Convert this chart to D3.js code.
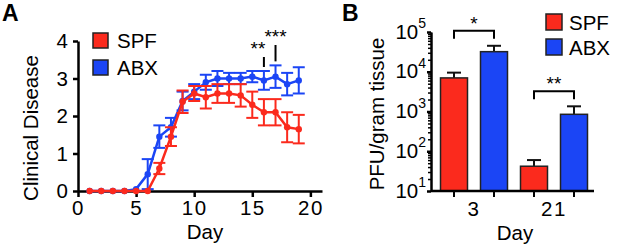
<!DOCTYPE html>
<html>
<head>
<meta charset="utf-8">
<script src="https://cdn.jsdelivr.net/npm/d3@7"></script>
<style>
  body { margin: 0; background: #fff; }
  svg { font-family: "Liberation Sans", Arial, sans-serif; }
</style>
</head>
<body>
<svg id="chart" width="617" height="248"></svg>
<script>
// panel A: clinical disease over time
const days = [1, 2, 3, 4, 5, 6, 7, 8, 9, 10, 11, 12, 13, 14, 15, 16, 17, 18, 19];
const spfScore = [0, 0, 0, 0, 0, 0, 0.6, 1.45, 2.38, 2.6, 2.5, 2.6, 2.6, 2.55, 2.3, 2.1, 2.1, 1.7, 1.65];
const spfErr = [0, 0, 0, 0, 0, 0, 0.15, 0.25, 0.3, 0.2, 0.3, 0.25, 0.25, 0.3, 0.35, 0.35, 0.35, 0.4, 0.38];
const abxScore = [0, 0, 0, 0, 0.05, 0.45, 1.45, 1.7, 2.4, 2.65, 2.9, 3.0, 3.0, 3.0, 3.05, 2.95, 3.05, 2.85, 2.95];
const abxErr = [0, 0, 0, 0, 0.05, 0.4, 0.3, 0.25, 0.25, 0.2, 0.2, 0.2, 0.15, 0.15, 0.15, 0.25, 0.3, 0.3, 0.35];
const sigA = [{ day: 16, label: '**' }, { day: 17, label: '***' }];

// panel B: viral titre
const titreDays = ['3', '21'];
const groups = ['SPF', 'ABX'];
const titre = { SPF: [7000, 42], ABX: [32000, 850] };
const titreErr = { SPF: [9500, 60], ABX: [45000, 1350] };
const sigB = [{ day: '3', label: '*' }, { day: '21', label: '**' }];

const colors = { SPF: '#fb2a1d', ABX: '#1b45f5' };
const fs = 20.5;

const svg = d3.select('#chart');

// ---------- panel A ----------
const x = d3.scaleLinear().domain([0, 21]).range([78, 322]);
const y = d3.scaleLinear().domain([0, 4]).range([191, 41]);

const gA = svg.append('g');

const xAxisA = gA.append('g')
	.attr('transform', `translate(0, ${y(0)})`)
	.call(d3.axisBottom(x).tickValues([0, 5, 10, 15, 20]).tickSize(6).tickPadding(3).tickSizeOuter(0));
const yAxisA = gA.append('g')
	.attr('transform', `translate(${x(0)}, 0)`)
	.call(d3.axisLeft(y).ticks(4).tickSize(5).tickPadding(5).tickSizeOuter(0));

[xAxisA, yAxisA].forEach(a => {
	a.selectAll('.domain').attr('stroke', '#000').attr('stroke-width', 2.5);
	a.selectAll('.tick line').attr('stroke', '#000').attr('stroke-width', 2.5);
	a.selectAll('text').attr('font-size', fs).attr('fill', '#000').attr('font-family', null);
});
xAxisA.selectAll('text').attr('letter-spacing', 1.5);

gA.append('text')
	.attr('x', 205).attr('y', 239)
	.attr('text-anchor', 'middle')
	.attr('font-size', fs)
	.text('Day');

gA.append('text')
	.attr('transform', `translate(38, 128) rotate(-90)`)
	.attr('text-anchor', 'middle')
	.attr('font-size', fs)
	.text('Clinical Disease');

const line = d3.line()
	.x((d, i) => x(days[i]))
	.y(d => y(d));

const series = [
	{ key: 'ABX', vals: abxScore, err: abxErr },
	{ key: 'SPF', vals: spfScore, err: spfErr }
];

series.forEach(s => {
	const g = gA.append('g');
	const c = colors[s.key];
	g.selectAll('g.err')
		.data(s.vals.map((v, i) => ({ day: days[i], v: v, e: s.err[i] })).filter(d => d.e > 0.06))
		.enter().append('g')
		.each(function(d) {
			const e = d3.select(this);
			e.append('line')
				.attr('x1', x(d.day)).attr('x2', x(d.day))
				.attr('y1', y(d.v - d.e)).attr('y2', y(d.v + d.e))
				.attr('stroke', c).attr('stroke-width', 2);
			[d.v - d.e, d.v + d.e].forEach(yy => {
				e.append('line')
					.attr('x1', x(d.day) - 6).attr('x2', x(d.day) + 6)
					.attr('y1', y(yy)).attr('y2', y(yy))
					.attr('stroke', c).attr('stroke-width', 2);
			});
		});
	g.append('path')
		.attr('d', line(s.vals))
		.attr('fill', 'none')
		.attr('stroke', c)
		.attr('stroke-width', 2.5);
	g.selectAll('circle')
		.data(s.vals)
		.enter().append('circle')
		.attr('cx', (d, i) => x(days[i]))
		.attr('cy', d => y(d))
		.attr('r', 3.2)
		.attr('fill', c);
});

// significance marks above ABX
sigA.forEach((s, k) => {
	const i = days.indexOf(s.day);
	const top = y(abxScore[i] + abxErr[i]);
	const lineTop = k === 0 ? 57 : 45;
	gA.append('line')
		.attr('x1', x(s.day)).attr('x2', x(s.day))
		.attr('y1', lineTop).attr('y2', top - 4)
		.attr('stroke', '#000').attr('stroke-width', 2);
	gA.append('text')
		.attr('x', x(s.day) + (k === 0 ? -6 : 0))
		.attr('y', lineTop + 6)
		.attr('dy', -8)
		.attr('text-anchor', 'middle')
		.attr('font-size', 19)
		.text(s.label);
});

// legend A
groups.forEach((gname, i) => {
	gA.append('rect')
		.attr('x', 93).attr('y', 33 + i * 27)
		.attr('width', 15).attr('height', 15)
		.attr('fill', colors[gname])
		.attr('stroke', '#222').attr('stroke-width', 1.5);
	gA.append('text')
		.attr('x', 117).attr('y', 48 + i * 27)
		.attr('font-size', fs)
		.text(gname);
});

svg.append('text')
	.attr('x', 2).attr('y', 21)
	.attr('font-size', 23).attr('font-weight', 'bold')
	.text('A');

// ---------- panel B ----------
const gB = svg.append('g');
const yB = d3.scaleLog().domain([10, 1e5]).range([191, 32]);
const x0 = d3.scaleBand().domain(titreDays).range([434, 594]);
const x1 = d3.scaleBand().domain(groups).range([0, x0.bandwidth()])
	.paddingInner(0.325).paddingOuter(0.1625);

const axisLeftX = 431;

// minor ticks
const minor = [];
[10, 100, 1000, 10000].forEach(base => {
	[2, 3, 4, 5, 6, 7, 8, 9].forEach(m => minor.push(base * m));
});
gB.append('g')
	.attr('transform', `translate(${axisLeftX}, 0)`)
	.call(d3.axisLeft(yB).tickValues(minor).tickSize(3).tickFormat('').tickSizeOuter(0))
	.call(a => a.selectAll('.tick line').attr('stroke', '#000').attr('stroke-width', 1.5));

const yAxisB = gB.append('g')
	.attr('transform', `translate(${axisLeftX}, 0)`)
	.call(d3.axisLeft(yB).tickValues([10, 100, 1000, 10000, 100000]).tickSize(4).tickPadding(1)
		.tickFormat(d => '').tickSizeOuter(0));
yAxisB.selectAll('.domain').attr('stroke', '#000').attr('stroke-width', 2.5);
yAxisB.selectAll('.tick line').attr('stroke', '#000').attr('stroke-width', 2.5);
yAxisB.selectAll('.tick text')
	.attr('font-size', fs).attr('fill', '#000').attr('font-family', null)
	.attr('dy', '0.3em')
	.each(function(d) {
		const t = d3.select(this);
		t.append('tspan').text('10');
		t.append('tspan')
			.attr('font-size', 14)
			.attr('dy', '-0.75em')
			.text(Math.round(Math.log10(d)));
	});

// bars
const bars = [];
titreDays.forEach((day, di) => {
	groups.forEach(gname => {
		bars.push({ day: day, group: gname, v: titre[gname][di], e: titreErr[gname][di] });
	});
});

const barG = gB.selectAll('g.bar')
	.data(bars)
	.enter().append('g');

barG.append('line')
	.attr('x1', d => x0(d.day) + x1(d.group) + x1.bandwidth() / 2)
	.attr('x2', d => x0(d.day) + x1(d.group) + x1.bandwidth() / 2)
	.attr('y1', d => yB(d.v)).attr('y2', d => yB(d.e))
	.attr('stroke', '#111').attr('stroke-width', 2);
barG.append('line')
	.attr('x1', d => x0(d.day) + x1(d.group) + x1.bandwidth() / 2 - 7)
	.attr('x2', d => x0(d.day) + x1(d.group) + x1.bandwidth() / 2 + 7)
	.attr('y1', d => yB(d.e)).attr('y2', d => yB(d.e))
	.attr('stroke', '#111').attr('stroke-width', 2);
barG.append('rect')
	.attr('x', d => x0(d.day) + x1(d.group))
	.attr('width', x1.bandwidth())
	.attr('y', d => yB(d.v))
	.attr('height', d => yB(10) - yB(d.v))
	.attr('fill', d => colors[d.group])
	.attr('stroke', '#222').attr('stroke-width', 1.5);

// x axis B
const xAxisB = gB.append('g')
	.attr('transform', `translate(0, ${yB(10)})`)
	.call(d3.axisBottom(x0).tickSize(0).tickPadding(10));
xAxisB.selectAll('.domain').remove();
xAxisB.append('line')
	.attr('x1', axisLeftX).attr('x2', 594)
	.attr('stroke', '#000').attr('stroke-width', 2.5);
xAxisB.selectAll('.bartick')
	.data(bars)
	.enter().append('line')
	.attr('x1', d => x0(d.day) + x1(d.group) + x1.bandwidth() / 2)
	.attr('x2', d => x0(d.day) + x1(d.group) + x1.bandwidth() / 2)
	.attr('y1', 0).attr('y2', 6)
	.attr('stroke', '#000').attr('stroke-width', 2);
xAxisB.selectAll('text').attr('font-size', fs).attr('fill', '#000').attr('font-family', null)
	.attr('letter-spacing', 1.5);

gB.append('text')
	.attr('x', 515).attr('y', 240)
	.attr('text-anchor', 'middle')
	.attr('font-size', fs)
	.text('Day');

gB.append('text')
	.attr('transform', `translate(384, 114) rotate(-90)`)
	.attr('text-anchor', 'middle')
	.attr('font-size', fs)
	.text('PFU/gram tissue');

// significance brackets
sigB.forEach(s => {
	const di = titreDays.indexOf(s.day);
	const xa = x0(s.day) + x1('SPF') + x1.bandwidth() / 2;
	const xb = x0(s.day) + x1('ABX') + x1.bandwidth() / 2;
	const by = Math.min(yB(titreErr.SPF[di]), yB(titreErr.ABX[di])) - 15;
	gB.append('path')
		.attr('d', `M${xa},${by + 8}V${by}H${xb}V${by + 8}`)
		.attr('fill', 'none')
		.attr('stroke', '#000').attr('stroke-width', 2);
	gB.append('text')
		.attr('x', (xa + xb) / 2).attr('y', by - 1)
		.attr('text-anchor', 'middle')
		.attr('font-size', 19)
		.text(s.label);
});

// legend B
groups.forEach((gname, i) => {
	gB.append('rect')
		.attr('x', 546).attr('y', 14 + i * 25)
		.attr('width', 16).attr('height', 16)
		.attr('fill', colors[gname])
		.attr('stroke', '#222').attr('stroke-width', 1.5);
	gB.append('text')
		.attr('x', 569).attr('y', 30 + i * 25)
		.attr('font-size', fs)
		.text(gname);
});

svg.append('text')
	.attr('x', 342).attr('y', 21)
	.attr('font-size', 23).attr('font-weight', 'bold')
	.text('B');
</script>
</body>
</html>
